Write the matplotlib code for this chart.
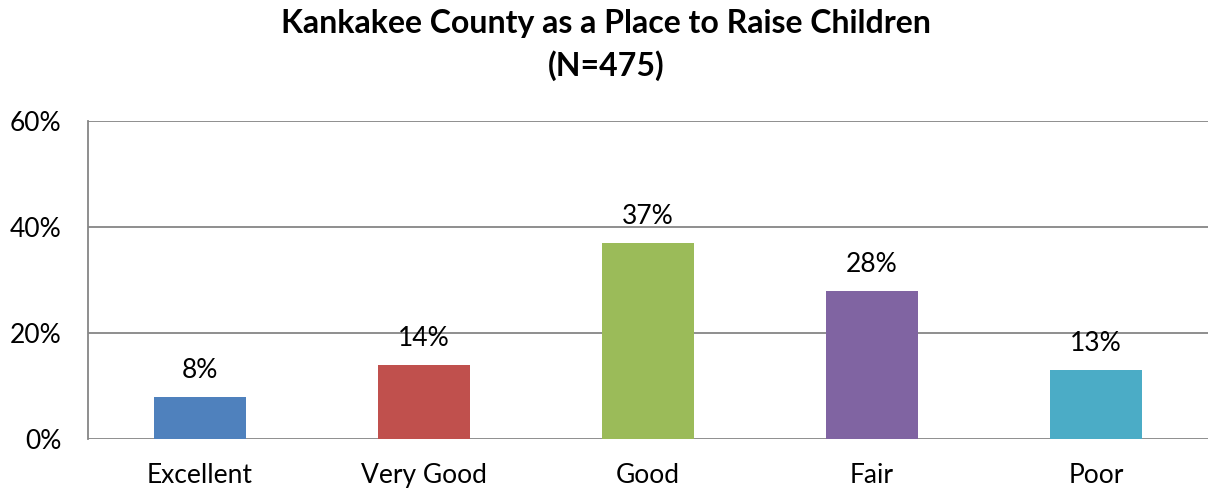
import matplotlib
matplotlib.use("Agg")
import matplotlib.pyplot as plt
from matplotlib.ticker import FuncFormatter

categories = ["Excellent", "Very Good", "Good", "Fair", "Poor"]
values = [8, 14, 37, 28, 13]
colors = ["#4F81BD", "#C0504D", "#9BBB59", "#8064A2", "#4BACC6"]
yticks = [0, 20, 40, 60]
title = "Kankakee County as a Place to Raise Children\n(N=475)"

plt.rcParams['font.family'] = ['Lato', 'DejaVu Sans']

fig = plt.figure(figsize=(12.12, 4.91), dpi=100)
ax = fig.add_axes([88/1212, 1 - 439/491, (1208-88)/1212, (439-121)/491])

x = range(len(categories))
bars = ax.bar(x, values, width=0.41, color=colors, zorder=3)
for xi, v in zip(x, values):
    ax.annotate(f"{v}%", (xi, v), xytext=(0, 10), textcoords="offset points",
                ha="center", va="bottom", fontsize=19, color="black")

ax.set_xlim(-0.5, len(categories) - 0.5)
ax.set_ylim(0, 60)
ax.set_yticks(yticks)
ax.yaxis.set_major_formatter(FuncFormatter(lambda v, p: f"{int(v)}%"))
ax.set_xticks(list(x))
ax.set_xticklabels(categories)
ax.tick_params(axis="both", length=0, labelsize=19, colors="black")
ax.tick_params(axis="x", pad=17)
ax.tick_params(axis="y", pad=19)
ax.grid(axis="y", color="#868686", linewidth=1.3, zorder=0)
for s in ["top", "right", "bottom"]:
    ax.spines[s].set_visible(False)
ax.spines["left"].set_color("#868686")
ax.spines["left"].set_linewidth(1.3)

fig.text(0.5, 1 - 45/491, title, fontsize=23, fontweight="bold",
         ha="center", va="center", linespacing=1.5)

fig.savefig("out.png", dpi=100)
